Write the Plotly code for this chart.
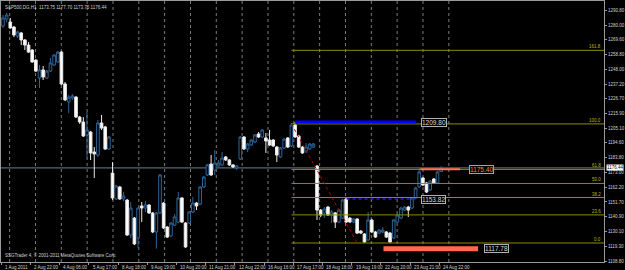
import plotly.graph_objects as go

# ---------------- data ----------------
opens = [1279.5, 1284.6, 1282.4, 1278.8, 1272.3, 1274.5, 1269.4, 1265.7, 1262.1, 1254.8,
         1241.8, 1247.6, 1241.8, 1246.8, 1251.2, 1253.4, 1260.6, 1237.4, 1224.3, 1227.2,
         1227.9, 1213.4, 1209.8, 1200.4, 1202.5, 1188.0, 1185.8, 1209.1, 1206.2, 1190.2,
         1172.7, 1153.9, 1162.6, 1153.9, 1153.1, 1127.7, 1140.0, 1125.5, 1148.8, 1147.3,
         1149.5, 1143.7, 1129.9, 1143.7, 1150.9, 1133.5, 1127.0, 1134.9, 1137.1, 1154.6,
         1136.4, 1136.4, 1144.4, 1150.9, 1150.2, 1162.6, 1171.3, 1179.3, 1174.9, 1177.8,
         1178.6, 1184.4, 1182.2, 1178.6, 1176.4, 1182.9, 1198.9, 1190.2, 1193.1, 1195.3,
         1201.1, 1198.9, 1198.2, 1196.7, 1196.7, 1191.6, 1184.4, 1190.9, 1198.2, 1192.4,
         1207.6, 1199.6, 1191.6, 1188.7, 1190.2, 1191.6, 1177.8, 1145.8, 1143.7, 1148.0,
         1142.2, 1143.7, 1137.1, 1140.0, 1153.9, 1140.0, 1137.1, 1139.3, 1130.6, 1128.4,
         1124.1, 1138.6, 1129.9, 1129.1, 1129.9, 1129.9, 1129.1, 1125.5, 1137.1, 1140.0,
         1145.8, 1148.0, 1147.3, 1154.6, 1162.6, 1169.1, 1165.5, 1160.4, 1168.4, 1165.5,
         1173.75]
highs = [1287.5, 1289.0, 1285.4, 1279.5, 1275.9, 1275.2, 1270.1, 1267.9, 1262.8, 1255.6,
         1251.2, 1250.5, 1247.6, 1256.3, 1259.2, 1261.4, 1261.4, 1238.9, 1229.4, 1230.1,
         1228.7, 1214.2, 1213.4, 1217.1, 1203.3, 1191.6, 1211.2, 1214.9, 1206.9, 1199.6,
         1180.7, 1164.0, 1163.3, 1158.9, 1153.9, 1151.7, 1140.8, 1148.0, 1151.7, 1152.4,
         1150.2, 1144.4, 1144.4, 1172.0, 1151.7, 1134.2, 1137.1, 1142.9, 1158.9, 1155.3,
         1137.1, 1145.1, 1155.3, 1151.7, 1163.3, 1170.6, 1179.3, 1185.8, 1189.5, 1182.2,
         1188.0, 1185.1, 1182.9, 1179.3, 1178.6, 1199.6, 1199.6, 1194.5, 1197.4, 1201.1,
         1202.5, 1204.7, 1201.8, 1204.0, 1197.4, 1192.4, 1191.6, 1198.2, 1198.9, 1209.1,
         1209.8, 1200.4, 1192.4, 1194.5, 1194.5, 1194.5, 1178.6, 1146.6, 1148.0, 1148.8,
         1145.8, 1144.4, 1146.6, 1153.9, 1154.6, 1140.8, 1140.0, 1140.0, 1131.3, 1129.1,
         1144.4, 1139.3, 1130.6, 1132.0, 1133.5, 1130.6, 1129.9, 1139.3, 1142.9, 1148.0,
         1148.8, 1148.8, 1155.3, 1162.6, 1176.4, 1169.8, 1166.2, 1167.7, 1169.1, 1174.2,
         1177.70]
lows = [1278.1, 1282.4, 1277.4, 1271.5, 1270.8, 1265.7, 1262.1, 1259.9, 1252.7, 1246.1,
        1234.5, 1240.3, 1241.0, 1246.1, 1250.5, 1252.7, 1236.7, 1225.1, 1216.3, 1225.8,
        1212.7, 1208.4, 1198.9, 1183.6, 1182.2, 1169.1, 1184.4, 1204.0, 1189.5, 1189.5,
        1153.1, 1153.1, 1153.1, 1152.4, 1127.0, 1125.5, 1120.4, 1118.3, 1137.1, 1144.4,
        1142.9, 1129.1, 1117.8, 1142.9, 1132.0, 1125.5, 1126.2, 1134.2, 1136.4, 1136.4,
        1118.3, 1135.7, 1143.7, 1145.8, 1149.5, 1161.8, 1170.6, 1170.6, 1171.3, 1177.1,
        1177.8, 1181.5, 1177.8, 1176.4, 1174.9, 1182.2, 1189.5, 1188.0, 1192.4, 1194.5,
        1198.2, 1198.2, 1187.3, 1192.4, 1191.6, 1180.7, 1183.6, 1190.2, 1190.9, 1191.6,
        1198.2, 1190.9, 1186.6, 1187.3, 1189.5, 1190.9, 1138.6, 1140.8, 1140.0, 1141.5,
        1136.4, 1132.8, 1136.4, 1139.3, 1136.4, 1136.4, 1136.4, 1128.4, 1128.4, 1121.9,
        1123.3, 1129.1, 1125.5, 1128.4, 1129.1, 1125.5, 1121.9, 1124.8, 1136.4, 1139.3,
        1145.1, 1140.8, 1146.6, 1153.9, 1161.8, 1163.3, 1158.2, 1159.6, 1164.8, 1164.8,
        1173.75]
closes = [1285.4, 1287.5, 1278.1, 1273.0, 1275.2, 1269.4, 1265.7, 1260.6, 1253.4, 1246.8,
          1247.6, 1242.5, 1246.8, 1252.7, 1258.5, 1260.6, 1237.4, 1225.8, 1227.9, 1228.7,
          1213.4, 1209.8, 1199.6, 1204.0, 1187.3, 1186.6, 1209.1, 1205.4, 1190.2, 1198.9,
          1154.6, 1163.3, 1153.9, 1156.0, 1127.7, 1147.3, 1121.2, 1147.3, 1147.3, 1149.5,
          1143.7, 1129.9, 1143.7, 1171.3, 1132.8, 1126.2, 1136.4, 1140.8, 1154.6, 1137.1,
          1119.0, 1144.4, 1150.9, 1148.8, 1162.6, 1169.8, 1178.6, 1171.3, 1180.0, 1180.0,
          1183.6, 1182.2, 1178.6, 1177.1, 1177.8, 1198.9, 1190.2, 1193.8, 1196.7, 1200.4,
          1198.9, 1204.0, 1196.0, 1193.1, 1192.4, 1185.8, 1190.9, 1197.4, 1191.6, 1207.6,
          1198.9, 1191.6, 1187.3, 1191.6, 1193.8, 1193.8, 1145.8, 1142.2, 1146.6, 1142.2,
          1144.4, 1137.1, 1145.8, 1153.1, 1137.1, 1137.1, 1139.3, 1129.1, 1129.1, 1122.6,
          1138.6, 1129.9, 1126.2, 1131.3, 1131.3, 1126.2, 1122.6, 1138.6, 1142.2, 1147.3,
          1148.0, 1145.8, 1154.6, 1161.8, 1173.5, 1164.0, 1158.9, 1166.9, 1165.5, 1173.5,
          1176.44]

date_label_bars = [0, 8, 16, 24, 32, 40, 48, 56, 64, 72, 80, 88, 96, 104, 112, 120]
date_labels = ["1 Aug 2011", "2 Aug 22:00", "4 Aug 06:00", "5 Aug 17:00", "8 Aug 18:00",
               "9 Aug 19:00", "10 Aug 20:00", "11 Aug 21:00", "12 Aug 22:00", "16 Aug 16:00",
               "17 Aug 17:00", "18 Aug 18:00", "19 Aug 19:00", "22 Aug 20:00", "23 Aug 21:00",
               "24 Aug 22:00"]
price_ticks = [1290.80, 1280.00, 1269.60, 1258.80, 1248.00, 1237.20, 1226.70, 1215.90,
               1205.10, 1194.60, 1183.80, 1173.00, 1162.20, 1151.70, 1140.90, 1130.10,
               1119.30, 1108.80]

# Fibonacci retracement object
fib_high = 1208.4
fib_low = 1121.9
fib_bar_start = 79
fib_bar_end = 97
fib_ratios = [1.618, 1.0, 0.618, 0.5, 0.382, 0.236, 0.0]
fib_names = ["161.8", "100.0", "61.8", "50.0", "38.2", "23.6", "0.0"]

# user drawn horizontal levels
level_prices = [1209.80, 1175.40, 1153.82, 1117.78]
level_from = [80, 114.3, 94.1, 104.2]
level_to = [113.2, 125.2, 113.2, 130.1]
level_label_at = [114.6, 127.6, 114.6, 131.7]
level_colors = ["#0000ff", "#ff7453", "#1a1aff", "#ff6a4d"]
level_widths = [3, 2, 1.5, 5]
level_dash = ["solid", "solid", "dot", "solid"]
level_text_colors = ["#d8d8d8", "#ff8a3a", "#d8d8d8", "#d8d8d8"]
level_box_colors = ["#b0b0b0", "#ff8a3a", "#b0b0b0", "#b0b0b0"]

symbol = "S&P500,DG,H1"
copyright_text = "SSGTrader 4, \u00a9 2001-2011 MetaQuotes Software Corp."

# ---------------- figure ----------------
n = len(closes)
bars = list(range(n))
X_RANGE = [-0.544, 164.6]
Y_RANGE = [1108.09, 1297.70]
FONT = "Liberation Sans"
AX = "#9a9a9a"

fig = go.Figure()
fig.add_trace(go.Candlestick(
    x=bars, open=opens, high=highs, low=lows, close=closes,
    increasing=dict(line=dict(color="#2f6496", width=1), fillcolor="#000000"),
    decreasing=dict(line=dict(color="#e8e8e8", width=1), fillcolor="#ffffff"),
    whiskerwidth=0, hoverinfo="skip", showlegend=False,
))

shapes = []
# vertical dotted grid
for k in range(18):
    gx = 1.82 + 7.075 * k
    shapes.append(dict(type="line", xref="x", yref="paper", x0=gx, x1=gx, y0=0, y1=1,
                       line=dict(color="#7a7a7a", width=1, dash="dot"), layer="below"))
# bid line
shapes.append(dict(type="line", xref="paper", yref="y", x0=0, x1=1, y0=closes[-1], y1=closes[-1],
                   line=dict(color="#6f7f8f", width=1), layer="below"))
# fib levels
fib_prices = [fib_low + r * (fib_high - fib_low) for r in fib_ratios]
for p in fib_prices:
    shapes.append(dict(type="line", xref="x", yref="y", x0=fib_bar_start, x1=X_RANGE[1],
                       y0=p, y1=p, line=dict(color="#8c8c00", width=1)))
shapes.append(dict(type="line", xref="x", yref="y", x0=fib_bar_start, x1=fib_bar_end,
                   y0=fib_high, y1=fib_low, line=dict(color="#b00000", width=1, dash="dot")))
# user levels
for p, a, b, c, w, d in zip(level_prices, level_from, level_to, level_colors, level_widths, level_dash):
    shapes.append(dict(type="line", xref="x", yref="y", x0=a, x1=b, y0=p, y1=p,
                       line=dict(color=c, width=w, dash=d)))

annotations = []
for p, name in zip(fib_prices, fib_names):
    annotations.append(dict(xref="paper", yref="y", x=1, y=p, text=name, showarrow=False,
                            xanchor="right", yanchor="bottom", xshift=-1, yshift=-1,
                            font=dict(family=FONT, size=4.5, color="#b8b800")))
for p, xl, tc, bc in zip(level_prices, level_label_at, level_text_colors, level_box_colors):
    annotations.append(dict(xref="x", yref="y", x=xl, y=p, text="%.2f" % p, showarrow=False,
                            xanchor="left", yanchor="middle", bgcolor="#000000",
                            bordercolor=bc, borderwidth=1, borderpad=0,
                            font=dict(family=FONT, size=6.5, color=tc)))
# bid price box
annotations.append(dict(xref="paper", yref="y", x=1, y=closes[-1], text="%.2f" % closes[-1],
                        showarrow=False, xanchor="left", yanchor="middle", xshift=2,
                        bgcolor="#ffffff", borderpad=0,
                        font=dict(family=FONT, size=4.5, color="#000000")))
# header
annotations.append(dict(xref="paper", yref="paper", x=0, y=1, xanchor="left", yanchor="top",
                        xshift=2, yshift=-2, showarrow=False,
                        text="%s  %.2f %.2f %.2f %.2f" % (symbol, opens[-1], highs[-1], lows[-1], closes[-1]),
                        font=dict(family=FONT, size=4.5, color="#d0d0d0")))
annotations.append(dict(xref="paper", yref="paper", x=0, y=0, xanchor="left", yanchor="bottom",
                        xshift=2, yshift=2, showarrow=False, text=copyright_text,
                        font=dict(family=FONT, size=4.5, color="#d0d0d0")))
# date labels
for b, t in zip(date_label_bars, date_labels):
    annotations.append(dict(xref="x", yref="paper", x=b, y=0, xanchor="left", yanchor="top",
                            yshift=-1, showarrow=False, text=t,
                            font=dict(family=FONT, size=4.5, color="#d0d0d0")))

fig.update_layout(
    width=625, height=270,
    margin=dict(l=0, r=18, t=1, b=8),
    paper_bgcolor="#000000", plot_bgcolor="#000000",
    shapes=shapes, annotations=annotations,
    boxgap=0.15, boxgroupgap=0.15,
    showlegend=False,
    xaxis=dict(range=X_RANGE, rangeslider=dict(visible=False), showgrid=False, zeroline=False,
               showline=True, linecolor=AX, linewidth=1, mirror=True,
               tickvals=[b - 0.5 for b in date_label_bars], ticks="outside", ticklen=2,
               tickcolor=AX, showticklabels=False),
    yaxis=dict(range=Y_RANGE, side="right", showgrid=False, zeroline=False,
               showline=True, linecolor=AX, linewidth=1, mirror=True,
               tickvals=price_ticks, ticktext=["%.2f" % v for v in price_ticks],
               ticks="outside", ticklen=2, tickcolor=AX,
               tickfont=dict(family=FONT, size=4.5, color="#d0d0d0")),
)

fig.write_html("out.html")
